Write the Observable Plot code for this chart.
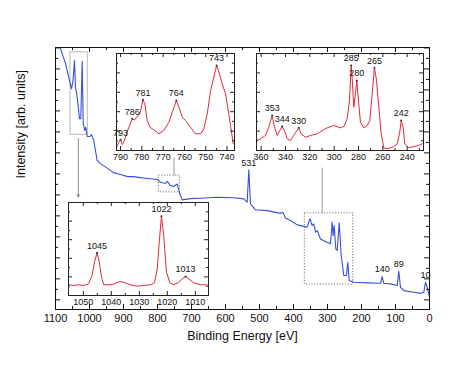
<!DOCTYPE html>
<html><head><meta charset="utf-8">
<script src="https://cdn.jsdelivr.net/npm/d3@7"></script>
<script src="https://cdn.jsdelivr.net/npm/@observablehq/plot@0.6"></script>
<style>
html,body{margin:0;padding:0;background:#fff;}
#wrap{position:relative;width:474px;height:370px;overflow:hidden;background:#fff;}
#wrap svg{position:absolute;}
</style></head><body><div id="wrap"></div>
<script>
// ---------- survey spectrum (binding energy, intensity in arb. units) ----------
const surveyEnergy = [1086,1070.6,1060.9,1052.9,1048.5,1044.1,1041.2,1036.2,1029.4,1025.6,1021.5,1018.5,1013.8,1010.9,1006.8,999.1,994.1,987.4,977.4,967.6,950,929.4,908.8,888.2,870.6,850,829.4,800,791.2,776.5,771.5,761.8,752.1,742.1,734.4,727.4,703,673.5,624.4,575.6,546.2,536.2,531.5,526.5,511.8,477.4,438.2,431.5,423.5,408.8,389.1,369.7,359.7,352,345,340.3,335.3,330.3,320.6,310.9,300.9,291.2,286.2,283.2,280.3,275.6,271.5,265.6,259.7,252.1,244.1,240.3,236.2,222.6,183.2,144.1,139.1,134.4,114.7,95,90.3,85.3,75.6,46.2,26.5,16.8,11.8,6.8,2.1,0];
const surveyIntensity = [12.0,11.25,10.6,10.05,10.44,11.4,10.12,9.65,8.63,8.63,11.36,8.4,8.06,8.22,7.78,7.78,7.87,7.59,6.63,6.49,6.3,6.06,5.97,5.87,5.87,5.82,5.78,5.73,5.6,5.54,5.65,5.44,5.4,5.52,5.05,4.76,4.82,4.84,4.89,4.86,4.81,4.65,6.19,4.57,4.29,4.25,4.12,4.17,3.9,3.78,3.57,3.5,3.46,3.86,3.54,3.62,3.22,3.3,2.9,2.82,2.74,2.67,3.7,3.06,3.54,2.43,2.35,3.67,2.11,1.16,1.16,1.79,0.92,0.84,0.81,0.79,1.11,0.79,0.76,0.68,1.36,0.6,0.44,0.36,0.31,0.36,0.84,0.6,0.29,0.12];
const surveyPeakE = [531.5, 139.1, 90.3, 11.8];
const surveyPeakI = [6.19, 1.11, 1.36, 0.84];
const surveyPeakText = ["531", "140", "89", "10"];

// ---------- inset 1 (790–737 eV) ----------
const inset1E = [791.9,791.5,790.8,790,789.2,788.5,787.7,786.1,784.5,783.4,782.2,780.9,779.5,778.6,777.5,776.2,774.4,772,769.7,767.3,765.7,763.8,762.6,761,759.5,757.1,754.8,752.4,750.9,749.3,747.7,746.2,744.9,743.8,742.3,740.7,739.2,738,737.1];
const inset1I = [2.5,5.2,8.6,11.0,6.2,8.6,13.7,24.0,32.7,31.6,35.1,37.8,52.3,48.1,30.9,24.0,21.3,17.2,20.6,29.2,39.5,51.5,44.6,34.3,30.9,24.0,17.2,17.2,22.4,37.8,61.9,75.6,87.6,80.7,68.8,58.5,37.8,20.6,6.9];
const inset1PeakE = [790, 784.5, 779.5, 763.8, 744.9];
const inset1PeakI = [11.0, 32.7, 52.3, 51.5, 87.6];
const inset1PeakText = ["793", "786", "781", "764", "743"];
const inset1Major = [790, 780, 770, 760, 750, 740];
const inset1Minor = [785, 775, 765, 755, 745];

// ---------- inset 2 (364–227 eV) ----------
const inset2E = [363.8,360.5,356.4,353.7,350.9,349,346.8,344.7,342.7,340.8,338.6,335.9,333.2,329.1,327.1,323.6,319.5,314,309.8,305.7,300.3,294.8,292.1,289.3,287.4,286,284.9,283.9,282.5,281.4,279.8,278.4,275.7,272.9,270.7,268.8,266.9,265.2,263.3,261.4,259.2,256.5,253.7,251,248.2,246.3,244.9,243.3,242,238.7,234.6,230.5,227.7];
const inset2I = [10.3,12.1,15.5,24.0,36.1,24.0,15.5,20.6,24.7,20.6,12.1,10.3,15.5,23.4,17.2,13.7,15.5,17.2,20.6,23.4,25.8,23.4,24.7,32.7,51.5,87.6,68.8,44.6,58.5,72.2,48.1,29.2,23.4,25.8,30.9,58.5,85.3,72.2,44.6,17.2,2.8,1.8,2.8,4.1,6.9,17.2,30.9,24.0,6.9,2.8,4.1,5.2,6.9];
const inset2PeakE = [350.9, 342.7, 329.1, 286, 281.4, 266.9, 244.9];
const inset2PeakI = [36.1, 24.7, 23.4, 87.6, 72.2, 85.3, 30.9];
const inset2PeakText = ["353", "344", "330", "285", "280", "265", "242"];
const inset2Major = [360, 340, 320, 300, 280, 260, 240];
const inset2Minor = [350, 330, 310, 290, 270, 250, 230];

// ---------- inset 3 (1055–1005 eV) ----------
const inset3E = [1055.2,1053.4,1051.6,1049.9,1048.1,1046.9,1046,1045.1,1044.3,1043.5,1042.7,1040.9,1039.1,1037,1035,1033.2,1030.8,1028.4,1026,1024.6,1023.6,1022.8,1022.1,1021.3,1020.3,1019.1,1017.7,1015.9,1014.4,1013.5,1012.4,1010.6,1008.2,1005.8];
const inset3I = [11.5,10.8,11.5,10.8,12.6,21.5,35.8,45.9,35.8,19.7,11.5,11.5,12.2,15.1,13.7,11.5,10.0,10.8,11.5,13.7,28.7,61.0,85.3,64.5,25.1,13.7,11.5,14.3,18.6,20.4,18.0,13.7,11.5,11.5];
const inset3PeakE = [1045.1, 1022.1, 1013.5];
const inset3PeakI = [45.9, 85.3, 20.4];
const inset3PeakText = ["1045", "1022", "1013"];
const inset3Major = [1050, 1040, 1030, 1020, 1010];
const inset3Minor = [1045, 1035, 1025, 1015];

// ---------- main axes ----------
const mainXMajor = [1100, 1000, 900, 800, 700, 600, 500, 400, 300, 200, 100, 0];
const mainXMinor = [1050, 950, 850, 750, 650, 550, 450, 350, 250, 150, 50];
const mainYMajor = [0,1,2,3,4,5,6,7,8,9,10,11,12];
const mainYMinor = [0.5,1.5,2.5,3.5,4.5,5.5,6.5,7.5,8.5,9.5,10.5,11.5];
const insetYMajor = [20, 40, 60, 80];
const insetYMinor = [10, 30, 50, 70, 90];

// zoom boxes on the survey (energy range, intensity range) and connectors
const boxX1 = [1056, 796, 366.7];
const boxX2 = [1005, 734.4, 224.4];
const boxY1 = [7.86, 5.12, 0.73];
const boxY2 = [11.79, 5.92, 4.12];
const boxDash = ["none", "1.5,1.5", "1.5,1.5"];
const linkX = [751.5, 315.6];
const linkY1 = [5.92, 4.12];
const linkY2 = [6.78, 6.3];
const arrowX = [1032.8];
const arrowY1 = [7.68];
const arrowY2 = [4.9];

const FONT = '"Liberation Sans", Arial, Helvetica, sans-serif';
const BLUE = "#3b4fdc";
const RED = "#e5263a";

function zip(a, b, c) { return a.map((x, i) => ({x, y: b[i], t: c ? c[i] : null})); }

function tickMarks(xMaj, xMin, yMaj, yMin, fw, fh, L, l, color) {
  return [
    Plot.ruleX(xMaj, {insetTop: fh - L, stroke: color}),
    Plot.ruleX(xMaj, {insetBottom: fh - L, stroke: color}),
    Plot.ruleX(xMin, {insetTop: fh - l, stroke: color}),
    Plot.ruleX(xMin, {insetBottom: fh - l, stroke: color}),
    Plot.ruleY(yMaj, {insetRight: fw - L, stroke: color}),
    Plot.ruleY(yMaj, {insetLeft: fw - L, stroke: color}),
    Plot.ruleY(yMin, {insetRight: fw - l, stroke: color}),
    Plot.ruleY(yMin, {insetLeft: fw - l, stroke: color})
  ];
}

const wrap = document.getElementById("wrap");

// ---------- main plot ----------
const mL = 55, mR = 45, mT = 47, mB = 61, W = 474, H = 370;
const survey = zip(surveyEnergy, surveyIntensity);
const boxes = boxX1.map((x1, i) => ({x1, x2: boxX2[i], y1: boxY1[i], y2: boxY2[i], dash: boxDash[i]}));
const links = linkX.map((x, i) => ({x, y1: linkY1[i], y2: linkY2[i]}));
const arrows = arrowX.map((x, i) => ({x, y1: arrowY1[i], y2: arrowY2[i]}));

const mainPlot = Plot.plot({
  width: W, height: H,
  marginLeft: mL, marginRight: mR, marginTop: mT, marginBottom: mB,
  x: {domain: [1100, 0]},
  y: {domain: [-0.46, 12.02], axis: null},
  style: {background: "transparent", fontFamily: FONT, color: "#111", overflow: "visible"},
  marks: [
    Plot.rect(boxes.filter(d => d.dash === "none"), {x1: "x1", x2: "x2", y1: "y1", y2: "y2", fill: "none", stroke: "#b8b8b8", strokeWidth: 1}),
    Plot.rect(boxes.filter(d => d.dash !== "none"), {x1: "x1", x2: "x2", y1: "y1", y2: "y2", fill: "none", stroke: "#777", strokeWidth: 1, strokeDasharray: "1.2,1.6"}),
    Plot.link(links, {x1: "x", x2: "x", y1: "y1", y2: "y2", stroke: "#999", strokeWidth: 1}),
    Plot.arrow(arrows, {x1: "x", x2: "x", y1: "y1", y2: "y2", stroke: "#888", strokeWidth: 1, headLength: 4}),
    Plot.line(survey, {x: "x", y: "y", stroke: BLUE, strokeWidth: 1.1, clip: true}),
    Plot.text(zip(surveyPeakE, surveyPeakI, surveyPeakText), {x: "x", y: "y", text: "t", dy: -7, fontSize: 9, fill: "#111"}),
    ...tickMarks(mainXMajor, mainXMinor, mainYMajor, mainYMinor, W - mL - mR, H - mT - mB, 5, 3, "#111"),
    Plot.frame({stroke: "#111"}),
    Plot.axisX({ticks: mainXMajor, tickSize: 0, tickPadding: 5, fontSize: 11, label: null, tickFormat: d => String(d)}),
    Plot.text(["Binding Energy [eV]"], {frameAnchor: "bottom", dy: 30, fontSize: 12.5, fill: "#111"}),
    Plot.text(["Intensity [arb. units]"], {frameAnchor: "left", dx: -35, rotate: -90, fontSize: 12.5, fill: "#111"})
  ]
});
mainPlot.style.left = "0px"; mainPlot.style.top = "0px";
wrap.appendChild(mainPlot);

// ---------- insets ----------
function inset(E, I, pE, pI, pT, domainX, major, minor, frame) {
  const [l, t, r, b] = frame;
  const iL = 10, iR = 10, iT = 1, iB = 14;
  const fw = r - l, fh = b - t;
  const p = Plot.plot({
    width: fw + iL + iR, height: fh + iT + iB,
    marginLeft: iL, marginRight: iR, marginTop: iT, marginBottom: iB,
    x: {domain: domainX},
    y: {domain: [0, 100], axis: null},
    style: {background: "transparent", fontFamily: FONT, color: "#111", overflow: "visible"},
    marks: [
      Plot.frame({fill: "white", stroke: "none"}),
      Plot.line(zip(E, I), {x: "x", y: "y", stroke: RED, strokeWidth: 1, clip: true}),
      Plot.dot(zip(pE, pI), {x: "x", y: "y", r: 1, fill: "#333", stroke: "none"}),
      Plot.text(zip(pE, pI, pT), {x: "x", y: "y", text: "t", dy: -7, fontSize: 9, fill: "#111"}),
      ...tickMarks(major, minor, insetYMajor, insetYMinor, fw, fh, 4, 2, "#222"),
      Plot.frame({stroke: "#222"}),
      Plot.axisX({ticks: major, tickSize: 0, tickPadding: 3, fontSize: 9, label: null, tickFormat: d => String(d)})
    ]
  });
  p.style.left = (l - iL) + "px";
  p.style.top = (t - iT) + "px";
  wrap.appendChild(p);
}

inset(inset1E, inset1I, inset1PeakE, inset1PeakI, inset1PeakText, [791.9, 736.5], inset1Major, inset1Minor, [116, 53, 234, 150]);
inset(inset2E, inset2I, inset2PeakE, inset2PeakI, inset2PeakText, [363.8, 226.6], inset2Major, inset2Minor, [256, 53, 423, 150]);
inset(inset3E, inset3I, inset3PeakE, inset3PeakI, inset3PeakText, [1055.3, 1005.3], inset3Major, inset3Minor, [68, 202, 208, 295]);
</script>
</body></html>
